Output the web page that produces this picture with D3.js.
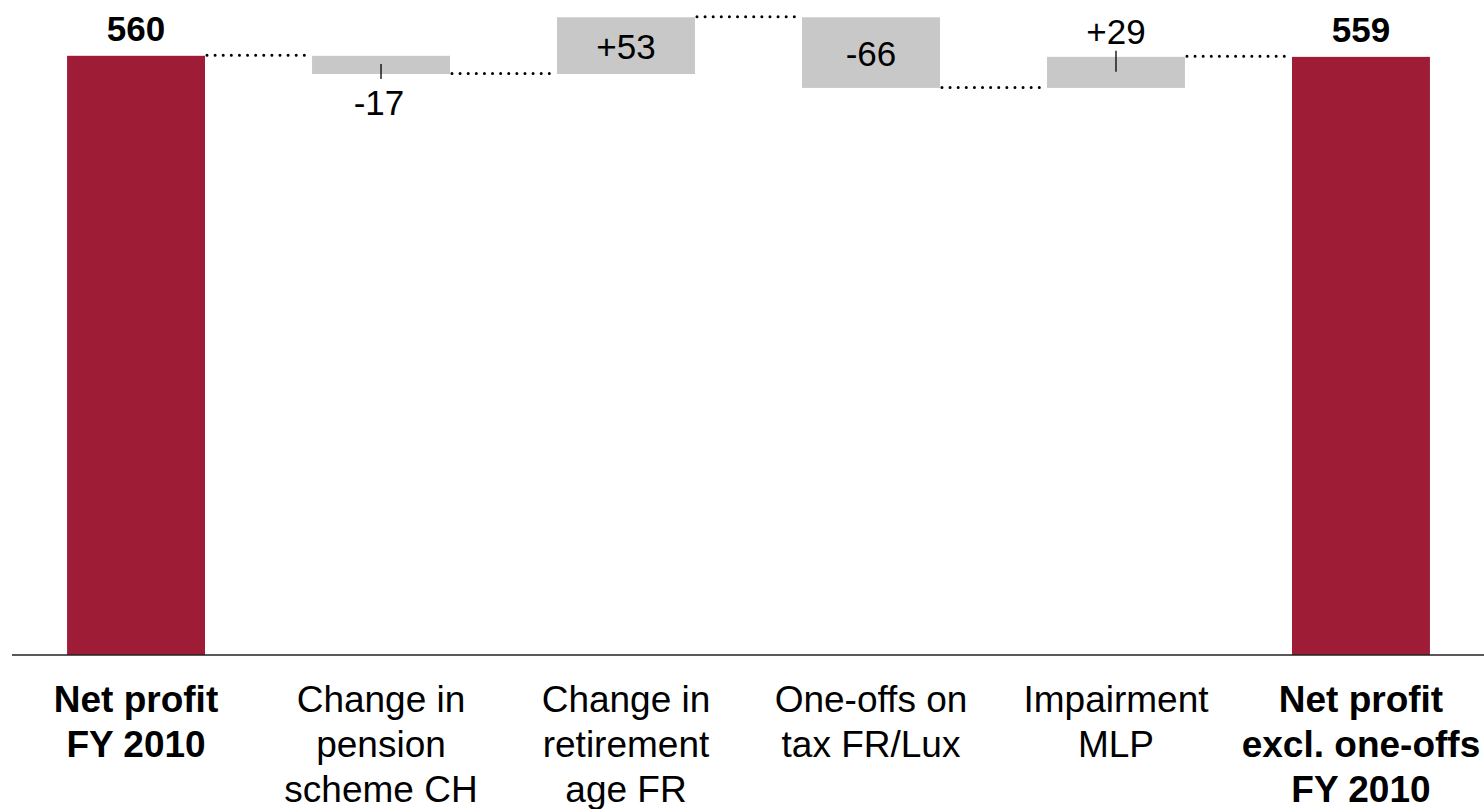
<!DOCTYPE html>
<html>
<head>
<meta charset="utf-8">
<script src="https://cdn.jsdelivr.net/npm/d3@7"></script>
<style>
  html, body { margin: 0; padding: 0; background: #ffffff; }
  svg { display: block; font-family: Arial, "Liberation Sans", sans-serif; }
</style>
</head>
<body>
<svg id="chart" width="1484" height="809"></svg>
<script>
// Net profit bridge, FY 2010
const categories = [
  ["Net profit", "FY 2010"],
  ["Change in", "pension", "scheme CH"],
  ["Change in", "retirement", "age FR"],
  ["One-offs on", "tax FR/Lux"],
  ["Impairment", "MLP"],
  ["Net profit", "excl. one-offs", "FY 2010"]
];
const kinds  = ["total", "delta", "delta", "delta", "delta", "total"];
const values = [560, -17, 53, -66, 29, 559];

const W = 1484, H = 809;
const svg = d3.select("#chart");

const keys = categories.map((c, i) => "c" + i);
const x = d3.scaleBand()
  .domain(keys)
  .range([-40, 1537])
  .paddingInner(0.437)
  .paddingOuter(0.437);

const y = d3.scaleLinear().domain([0, 600]).range([655, 13]);

// Build running start/end for each step of the bridge
let running = 0;
const rows = values.map((v, i) => {
  let start, end;
  if (kinds[i] === "total") { start = 0; end = v; running = v; }
  else { start = running; end = running + v; running = end; }
  return { key: keys[i], kind: kinds[i], value: v, start, end, level: kinds[i] === "total" ? v : end };
});

const RED = "#9F1C36", GREY = "#C8C8C8";

// Bars
svg.append("g").selectAll("rect")
  .data(rows)
  .join("rect")
  .attr("x", d => x(d.key))
  .attr("width", x.bandwidth())
  .attr("y", d => y(Math.max(d.start, d.end)))
  .attr("height", d => Math.abs(y(d.start) - y(d.end)))
  .attr("fill", d => d.kind === "total" ? RED : GREY);

// Dotted connectors between consecutive bars
svg.append("g").selectAll("line")
  .data(rows.slice(0, -1))
  .join("line")
  .attr("x1", d => x(d.key) + x.bandwidth() + 2)
  .attr("x2", (d, i) => x(rows[i + 1].key) - 1)
  .attr("y1", d => y(d.level) - 0.5)
  .attr("y2", d => y(d.level) - 0.5)
  .attr("stroke", "#000")
  .attr("stroke-width", 3)
  .attr("stroke-linecap", "round")
  .attr("stroke-dasharray", "0.01,8.1");

// Baseline
svg.append("line")
  .attr("x1", 12).attr("x2", W)
  .attr("y1", y(0)).attr("y2", y(0))
  .attr("stroke", "#222").attr("stroke-width", 1.6);

// Value labels
const fmt = d => d.kind === "total" ? String(d.value) : (d.value > 0 ? "+" + d.value : String(d.value));
const labels = svg.append("g").attr("font-size", 35).attr("text-anchor", "middle").attr("fill", "#000");

rows.forEach(d => {
  const cx = x(d.key) + x.bandwidth() / 2;
  const top = y(Math.max(d.start, d.end));
  const bottom = y(Math.min(d.start, d.end));
  const h = bottom - top;
  if (d.kind === "total") {
    labels.append("text")
      .attr("x", cx).attr("y", top - 15)
      .attr("font-weight", "bold")
      .text(fmt(d));
  } else if (h >= 40) {
    labels.append("text")
      .attr("x", cx).attr("y", (top + bottom) / 2 + 13)
      .text(fmt(d));
  } else if (d.value < 0) {
    labels.append("line")
      .attr("x1", cx).attr("x2", cx)
      .attr("y1", bottom - 10).attr("y2", bottom + 5)
      .attr("stroke", "#000").attr("stroke-width", 1.3);
    labels.append("text")
      .attr("x", cx - 2).attr("y", bottom + 41)
      .text(fmt(d));
  } else {
    labels.append("line")
      .attr("x1", cx).attr("x2", cx)
      .attr("y1", top - 6).attr("y2", top + 15)
      .attr("stroke", "#000").attr("stroke-width", 1.3);
    labels.append("text")
      .attr("x", cx).attr("y", top - 13)
      .text(fmt(d));
  }
});

// Category labels
const cat = svg.append("g").attr("font-size", 37).attr("text-anchor", "middle").attr("fill", "#000");
categories.forEach((lines, i) => {
  const t = cat.append("text")
    .attr("x", x(keys[i]) + x.bandwidth() / 2)
    .attr("y", 712)
    .attr("font-weight", kinds[i] === "total" ? "bold" : "normal");
  lines.forEach((ln, j) => {
    t.append("tspan")
      .attr("x", x(keys[i]) + x.bandwidth() / 2)
      .attr("dy", j === 0 ? 0 : 45)
      .text(ln);
  });
});
</script>
</body>
</html>
